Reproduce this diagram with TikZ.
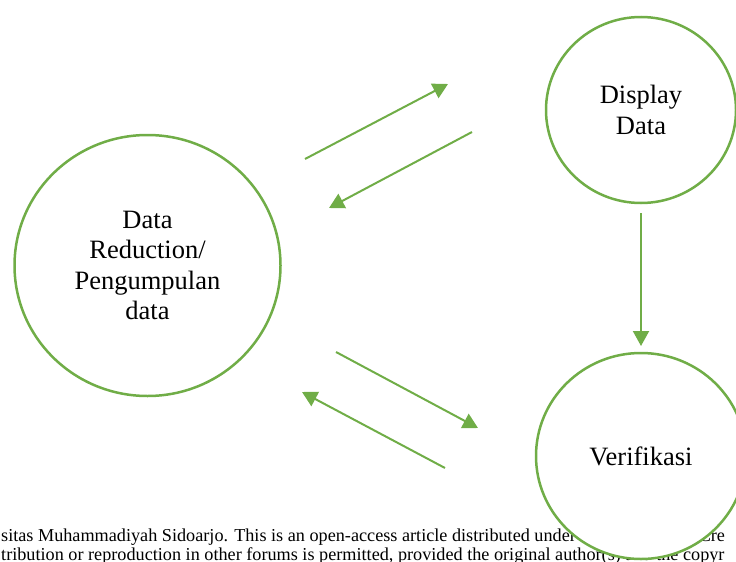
\documentclass[tikz,border=0pt]{standalone}
\usepackage{fontspec}
\setmainfont{Liberation Serif}
\usetikzlibrary{arrows.meta,shapes.geometric}
\definecolor{grn}{HTML}{70AD47}
\tikzset{
  bubble/.style={ellipse, draw=grn, line width=2.5pt, fill=white, inner sep=0pt, align=center,
    font=\fontsize{26.5}{30.5}\selectfont},
  flow/.style={draw=grn, line width=2pt, -{Triangle[length=15pt,width=16pt]}},
  foot/.style={anchor=base west, inner sep=0pt, font=\fontsize{18.2}{20}\selectfont}
}
\begin{document}
\begin{tikzpicture}[x=1pt,y=-1pt]
\useasboundingbox (0,0) rectangle (736,562);
\clip (0,0) rectangle (736,562);
\node[foot] (f1) at (1,541) {sitas Muhammadiyah Sidoarjo. This is an open-access article distributed under the terms of the Cre};
\node[foot] (f2) at (1,560) {tribution or reproduction in other forums is permitted, provided the original author(s) and the copyr};
\node[bubble, minimum width=266pt, minimum height=261pt] (red) at (147.5,265.5) {Data\\Reduction/\\Pengumpulan\\data};
\node[bubble, minimum width=190pt, minimum height=186pt] (disp) at (641,110) {Display\\Data};
\node[bubble, minimum width=210pt, minimum height=206pt] (ver) at (641,456) {Verifikasi};
\coordinate (a1s) at (305,159); \coordinate (a1e) at (448,84);
\coordinate (a2s) at (472,132); \coordinate (a2e) at (329,208);
\coordinate (a3s) at (336,352); \coordinate (a3e) at (478,428);
\coordinate (a4s) at (445,468); \coordinate (a4e) at (302,392);
\coordinate (a5s) at (641,213); \coordinate (a5e) at (641,346);
\draw[flow] (a1s) -- (a1e);
\draw[flow] (a2s) -- (a2e);
\draw[flow] (a3s) -- (a3e);
\draw[flow] (a4s) -- (a4e);
\draw[flow] (a5s) -- (a5e);
\end{tikzpicture}
\end{document}
